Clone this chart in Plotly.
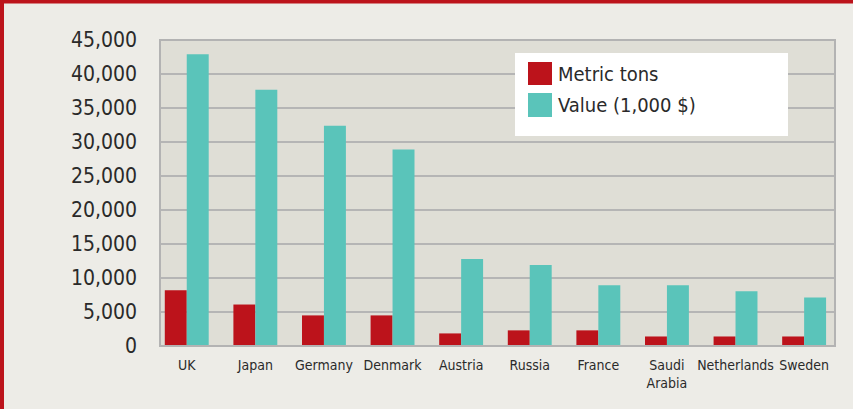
import plotly.graph_objects as go

# Top export destinations: volume and value
countries = ["UK", "Japan", "Germany", "Denmark", "Austria", "Russia",
             "France", "Saudi<br>Arabia", "Netherlands", "Sweden"]
metric_tons = [8200, 6100, 4500, 4500, 1850, 2300, 2300, 1400, 1400, 1400]
value_k_usd = [42900, 37700, 32400, 28900, 12800, 11900, 8950, 8950, 8050, 7150]
y_ticks = [0, 5000, 10000, 15000, 20000, 25000, 30000, 35000, 40000, 45000]
series_names = ["Metric tons", "Value (1,000 $)"]

RED = "#BC131B"
TEAL = "#5AC4BA"
FONT = "DejaVu Sans Condensed"
TEXT = "#2A2A2A"
W, H = 853, 409
ML, MR, MT, MB = 160, 18, 40, 63
PW, PH = W - ML - MR, H - MT - MB


def px_x(p):
    return (p - ML) / PW


def px_y(p):
    return 1 - (p - MT) / PH


x_idx = list(range(len(countries)))

fig = go.Figure()
fig.add_bar(x=x_idx, y=metric_tons, name=series_names[0], marker_color=RED,
            marker_line_width=0)
fig.add_bar(x=x_idx, y=value_k_usd, name=series_names[1], marker_color=TEAL,
            marker_line_width=0)

shapes = [
    # plot frame
    dict(type="rect", xref="paper", yref="paper", x0=0, x1=1, y0=0, y1=1,
         line=dict(color="#B3B3B3", width=2), layer="above"),
    # legend box
    dict(type="rect", xref="paper", yref="paper",
         x0=px_x(515), x1=px_x(788), y0=px_y(136), y1=px_y(53),
         fillcolor="white", line_width=0, layer="above"),
    dict(type="rect", xref="paper", yref="paper",
         x0=px_x(528), x1=px_x(552), y0=px_y(85), y1=px_y(62),
         fillcolor=RED, line_width=0, layer="above"),
    dict(type="rect", xref="paper", yref="paper",
         x0=px_x(528), x1=px_x(552), y0=px_y(117), y1=px_y(93),
         fillcolor=TEAL, line_width=0, layer="above"),
    # red page border, top and left
    dict(type="rect", xref="paper", yref="paper",
         x0=px_x(0), x1=px_x(W), y0=px_y(3.5), y1=px_y(0),
         fillcolor=RED, line_width=0, layer="above"),
    dict(type="rect", xref="paper", yref="paper",
         x0=px_x(0), x1=px_x(4), y0=px_y(H), y1=px_y(0),
         fillcolor=RED, line_width=0, layer="above"),
]

annotations = [
    dict(xref="paper", yref="paper", x=px_x(556), y=px_y(74), text=series_names[0],
         showarrow=False, xanchor="left", yanchor="middle",
         font=dict(family=FONT, size=20, color=TEXT)),
    dict(xref="paper", yref="paper", x=px_x(556), y=px_y(105), text=series_names[1],
         showarrow=False, xanchor="left", yanchor="middle",
         font=dict(family=FONT, size=20, color=TEXT)),
]

fig.update_layout(
    width=W, height=H,
    margin=dict(l=ML, r=MR, t=MT, b=MB, pad=0, autoexpand=False),
    paper_bgcolor="#EDECE7",
    plot_bgcolor="#DFDED6",
    barmode="group",
    bargap=0.36,
    bargroupgap=0,
    showlegend=False,
    shapes=shapes,
    annotations=annotations,
    font=dict(family=FONT, color=TEXT),
)
fig.update_xaxes(
    range=[-0.39, 9.45], tickmode="array", tickvals=x_idx, ticktext=countries,
    showgrid=False, zeroline=False, showline=False, ticks="",
    tickangle=0, automargin=False,
    tickfont=dict(family=FONT, size=14, color=TEXT),
    ticklabelstandoff=9,
)
fig.update_yaxes(
    range=[0, 45000], tickmode="array", tickvals=y_ticks,
    ticktext=[f"{v:,}" for v in y_ticks],
    showgrid=True, gridcolor="#B5B5B5", gridwidth=2,
    zeroline=False, showline=False, ticks="", automargin=False,
    tickfont=dict(family=FONT, size=21, color=TEXT),
    ticklabelstandoff=22,
)

fig.write_html("out.html")
